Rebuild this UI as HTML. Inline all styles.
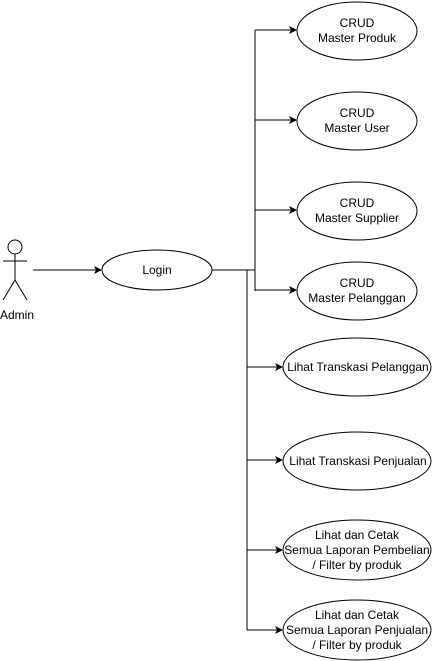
<!DOCTYPE html>
<html><head><meta charset="utf-8"><style>html,body{margin:0;padding:0;background:#fff;}svg{display:block}svg text{font-family:"Liberation Sans",Arial,sans-serif;font-size:12px;}</style></head>
<body>
<svg width="433" height="661" viewBox="0 0 433 661" xmlns="http://www.w3.org/2000/svg" fill="none" stroke="#000">
<defs><marker id="a" markerWidth="8" markerHeight="8" refX="7" refY="4" orient="auto" markerUnits="userSpaceOnUse"><path d="M0,0 L8,4 L0,8 L2,4 Z" fill="#000" stroke="none"/></marker></defs>
<circle cx="15" cy="247" r="7"/>
<line x1="15" y1="254" x2="15" y2="280"/>
<line x1="3" y1="261" x2="27" y2="261"/>
<line x1="15" y1="280" x2="3" y2="300"/>
<line x1="15" y1="280" x2="27" y2="300"/>
<text x="17" y="319" text-anchor="middle" fill="#000" stroke="none">Admin</text>
<line x1="33" y1="270" x2="101" y2="270" marker-end="url(#a)"/>
<ellipse cx="157" cy="270" rx="55" ry="20"/>
<text x="157" y="274" text-anchor="middle" fill="#000" stroke="none">Login</text>
<polyline points="212,270 255,270 255,30"/>
<line x1="255" y1="270" x2="255" y2="291"/>
<line x1="247" y1="270" x2="247" y2="630"/>
<g marker-end="url(#a)">
<line x1="255" y1="30" x2="296" y2="30"/>
<line x1="255" y1="120" x2="296" y2="120"/>
<line x1="255" y1="210" x2="296" y2="210"/>
<line x1="255" y1="290" x2="296" y2="290"/>
<line x1="247" y1="367" x2="282" y2="367"/>
<line x1="247" y1="460" x2="282" y2="460"/>
<line x1="247" y1="550" x2="282" y2="550"/>
<line x1="247" y1="630" x2="282" y2="630"/>
</g>
<ellipse cx="357" cy="31" rx="60" ry="29"/>
<ellipse cx="357" cy="121" rx="60" ry="29"/>
<ellipse cx="357" cy="211" rx="60" ry="29"/>
<ellipse cx="357" cy="291" rx="60" ry="29"/>
<ellipse cx="357" cy="367" rx="74" ry="29"/>
<ellipse cx="357" cy="461" rx="74" ry="29"/>
<ellipse cx="357" cy="550" rx="74" ry="30"/>
<ellipse cx="357" cy="630" rx="74" ry="30"/>
<g fill="#000" stroke="none" text-anchor="middle">
<text x="357" y="27">CRUD</text><text x="357" y="42">Master Produk</text>
<text x="357" y="117">CRUD</text><text x="357" y="132">Master User</text>
<text x="357" y="207">CRUD</text><text x="357" y="222">Master Supplier</text>
<text x="357" y="287">CRUD</text><text x="357" y="302">Master Pelanggan</text>
<text x="358" y="371">Lihat Transkasi Pelanggan</text>
<text x="358" y="465">Lihat Transkasi Penjualan</text>
<text x="357" y="539">Lihat dan Cetak</text><text x="357" y="554">Semua Laporan Pembelian</text><text x="357" y="569">/ Filter by produk</text>
<text x="357" y="619">Lihat dan Cetak</text><text x="357" y="634">Semua Laporan Penjualan</text><text x="357" y="649">/ Filter by produk</text>
</g>
</svg>
</body></html>
